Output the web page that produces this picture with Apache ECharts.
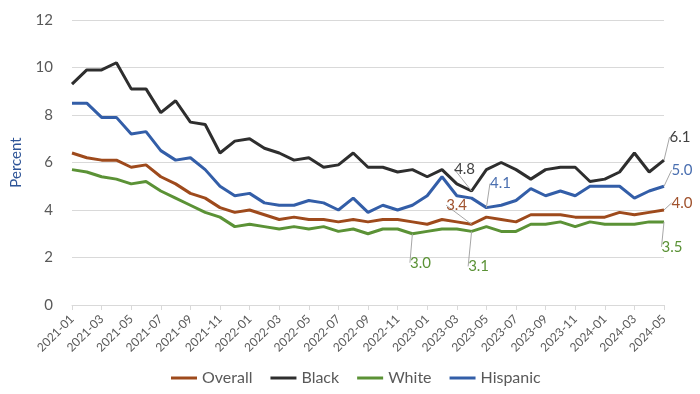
<!DOCTYPE html>
<html><head><meta charset="utf-8">
<script src="https://cdn.jsdelivr.net/npm/echarts@6/dist/echarts.min.js"></script>
<style>html,body{margin:0;padding:0;background:#fff}#c{width:700px;height:394px}</style>
</head><body><div id="c"></div>
<script>
const months = ['2021-01','2021-02','2021-03','2021-04','2021-05','2021-06','2021-07','2021-08','2021-09','2021-10','2021-11','2021-12',
  '2022-01','2022-02','2022-03','2022-04','2022-05','2022-06','2022-07','2022-08','2022-09','2022-10','2022-11','2022-12',
  '2023-01','2023-02','2023-03','2023-04','2023-05','2023-06','2023-07','2023-08','2023-09','2023-10','2023-11','2023-12',
  '2024-01','2024-02','2024-03','2024-04','2024-05'];
const overall = [6.4,6.2,6.1,6.1,5.8,5.9,5.4,5.1,4.7,4.5,4.1,3.9,4.0,3.8,3.6,3.7,3.6,3.6,3.5,3.6,3.5,3.6,3.6,3.5,3.4,3.6,3.5,3.4,3.7,3.6,3.5,3.8,3.8,3.8,3.7,3.7,3.7,3.9,3.8,3.9,4.0];
const black = [9.3,9.9,9.9,10.2,9.1,9.1,8.1,8.6,7.7,7.6,6.4,6.9,7.0,6.6,6.4,6.1,6.2,5.8,5.9,6.4,5.8,5.8,5.6,5.7,5.4,5.7,5.1,4.8,5.7,6.0,5.7,5.3,5.7,5.8,5.8,5.2,5.3,5.6,6.4,5.6,6.1];
const white = [5.7,5.6,5.4,5.3,5.1,5.2,4.8,4.5,4.2,3.9,3.7,3.3,3.4,3.3,3.2,3.3,3.2,3.3,3.1,3.2,3.0,3.2,3.2,3.0,3.1,3.2,3.2,3.1,3.3,3.1,3.1,3.4,3.4,3.5,3.3,3.5,3.4,3.4,3.4,3.5,3.5];
const hispanic = [8.5,8.5,7.9,7.9,7.2,7.3,6.5,6.1,6.2,5.7,5.0,4.6,4.7,4.3,4.2,4.2,4.4,4.3,4.0,4.5,3.9,4.2,4.0,4.2,4.6,5.4,4.6,4.5,4.1,4.2,4.4,4.9,4.6,4.8,4.6,5.0,5.0,5.0,4.5,4.8,5.0];
const yTicks = [0,2,4,6,8,10,12];

// annotated points: index -> label offset (dx, dy) from the point
const notes = {
  Overall:  {27: [-15,-19], 40: [18,-7]},
  Black:    {27: [-7,-22], 40: [16,-23]},
  White:    {23: [8,29], 27: [7,35], 40: [8,25]},
  Hispanic: {28: [14,-24], 40: [18,-16]}
};
const colors = {Overall:'#9E4A1C', Black:'#2E2E2E', White:'#5B9236', Hispanic:'#335EA8'};
const labelColors = {Overall:'#A0522D', Black:'#404040', White:'#5B9236', Hispanic:'#4A6FB0'};
const FONT = 'Lato, "Open Sans", sans-serif';

function makeSeries(name, values) {
  const n = notes[name];
  return {
    name, type: 'line', data: values.map((v, i) => n[i] ? {value: v, label: {show: true}} : v),
    symbol: 'circle', symbolSize: 0, showSymbol: true,
    lineStyle: {width: 3, color: colors[name]}, itemStyle: {color: colors[name]},
    label: {show: false, position: 'inside', formatter: p => p.value.toFixed(1),
            color: labelColors[name], fontSize: 15, fontFamily: FONT},
    labelLine: {show: true, lineStyle: {color: '#A6A6A6', width: 1}},
    labelLayout: p => n[p.dataIndex] ? {dx: n[p.dataIndex][0], dy: n[p.dataIndex][1]} : {},
    emphasis: {disabled: true}, animation: false
  };
}

const chart = echarts.init(document.getElementById('c'));
chart.setOption({
  animation: false,
  grid: {left: 72, right: 36, top: 20, bottom: 89},
  legend: {
    data: ['Overall','Black','White','Hispanic'], left: 166, bottom: 3,
    icon: 'rect', itemWidth: 26, itemHeight: 3, itemGap: 18,
    textStyle: {fontSize: 16, color: '#595959', fontFamily: FONT}
  },
  xAxis: {
    type: 'category', data: months, boundaryGap: false,
    axisLine: {lineStyle: {color: '#D9D9D9'}},
    axisTick: {interval: 1, length: 5, lineStyle: {color: '#D9D9D9'}},
    axisLabel: {interval: 1, rotate: 45, fontSize: 12, color: '#595959', fontFamily: FONT, margin: 12}
  },
  yAxis: {
    type: 'value', min: yTicks[0], max: yTicks[yTicks.length-1], interval: 2,
    name: 'Percent', nameLocation: 'middle', nameGap: 48,
    nameTextStyle: {fontSize: 15, color: '#2F5597', fontFamily: FONT},
    axisLine: {show: false}, axisTick: {show: false},
    axisLabel: {fontSize: 15, color: '#595959', fontFamily: FONT, margin: 19},
    splitLine: {lineStyle: {color: '#D9D9D9'}}
  },
  series: [makeSeries('Overall', overall), makeSeries('Black', black),
           makeSeries('White', white), makeSeries('Hispanic', hispanic)]
});
</script></body></html>
